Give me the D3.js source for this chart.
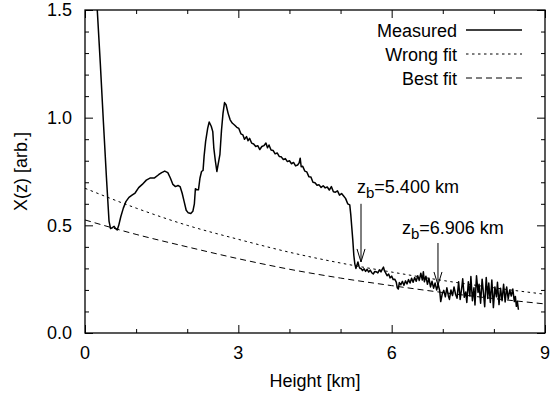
<!DOCTYPE html>
<html>
<head>
<meta charset="utf-8">
<script src="https://cdn.jsdelivr.net/npm/d3@7"></script>
<style>
  body { margin: 0; background: #fff; }
  svg text { font-family: "Liberation Sans", Arial, sans-serif; fill: #000; }
</style>
</head>
<body>
<div id="chart"></div>
<script>
// measured profile: [height km, X(z)]
const measured = [
  [0.16, 1.90], [0.24, 1.50], [0.30, 1.25], [0.36, 0.98], [0.42, 0.72], [0.47, 0.52], [0.50, 0.485],
  [0.54, 0.49], [0.57, 0.495], [0.60, 0.485], [0.63, 0.478], [0.66, 0.50], [0.70, 0.54], [0.75, 0.58],
  [0.80, 0.61], [0.86, 0.63], [0.92, 0.64], [0.98, 0.65], [1.05, 0.675], [1.12, 0.69], [1.20, 0.71],
  [1.28, 0.72], [1.36, 0.72], [1.44, 0.735], [1.50, 0.745], [1.56, 0.752], [1.62, 0.745], [1.67, 0.72],
  [1.72, 0.69], [1.77, 0.68], [1.82, 0.685], [1.86, 0.68], [1.90, 0.65], [1.94, 0.61], [1.98, 0.57],
  [2.02, 0.558], [2.07, 0.555], [2.11, 0.565], [2.14, 0.60], [2.16, 0.67], [2.19, 0.665], [2.22, 0.665],
  [2.25, 0.72], [2.28, 0.75], [2.31, 0.755], [2.33, 0.82], [2.36, 0.89], [2.40, 0.95], [2.43, 0.98],
  [2.47, 0.96], [2.50, 0.935], [2.52, 0.86], [2.55, 0.80], [2.58, 0.75], [2.61, 0.79], [2.64, 0.83],
  [2.67, 0.94], [2.70, 1.02], [2.73, 1.07], [2.76, 1.06], [2.80, 1.02], [2.84, 0.99], [2.88, 0.975],
  [2.93, 0.965], [2.97, 0.955], [3.01, 0.950], [3.05, 0.925], [3.09, 0.920], [3.12, 0.900], [3.16, 0.912],
  [3.19, 0.893], [3.22, 0.904], [3.26, 0.882], [3.30, 0.878], [3.34, 0.866], [3.38, 0.870], [3.42, 0.852],
  [3.46, 0.866], [3.50, 0.870], [3.54, 0.882], [3.57, 0.860], [3.60, 0.873], [3.64, 0.850], [3.68, 0.848],
  [3.72, 0.832], [3.76, 0.836], [3.80, 0.820], [3.84, 0.818], [3.88, 0.806], [3.92, 0.810], [3.96, 0.796],
  [4.00, 0.800], [4.04, 0.786], [4.08, 0.792], [4.12, 0.776], [4.16, 0.780], [4.19, 0.790], [4.21, 0.812],
  [4.23, 0.772], [4.26, 0.774], [4.30, 0.752], [4.34, 0.748], [4.38, 0.726], [4.42, 0.724], [4.46, 0.700],
  [4.50, 0.698], [4.54, 0.686], [4.58, 0.688], [4.62, 0.676], [4.66, 0.684], [4.70, 0.674], [4.74, 0.678],
  [4.78, 0.664], [4.82, 0.680], [4.86, 0.656], [4.90, 0.654], [4.94, 0.660], [4.98, 0.640], [5.02, 0.648],
  [5.06, 0.636], [5.10, 0.624], [5.14, 0.600], [5.18, 0.595], [5.20, 0.55], [5.22, 0.49], [5.24, 0.43],
  [5.26, 0.36], [5.28, 0.32], [5.30, 0.30], [5.32, 0.315], [5.34, 0.33], [5.36, 0.31], [5.38, 0.30],
  [5.40, 0.300], [5.43, 0.290], [5.46, 0.298], [5.49, 0.286], [5.52, 0.296], [5.55, 0.283], [5.58, 0.292],
  [5.61, 0.280], [5.64, 0.274], [5.67, 0.286], [5.70, 0.284], [5.73, 0.279], [5.76, 0.293], [5.79, 0.284],
  [5.82, 0.298], [5.84, 0.306], [5.86, 0.288], [5.88, 0.280], [5.91, 0.266], [5.94, 0.274], [5.97, 0.256],
  [6.00, 0.264], [6.03, 0.248], [6.06, 0.250], [6.09, 0.236], [6.11, 0.210], [6.13, 0.204], [6.15, 0.234],
  [6.18, 0.224], [6.21, 0.240], [6.24, 0.222], [6.27, 0.242], [6.30, 0.228], [6.33, 0.248], [6.36, 0.232],
  [6.39, 0.254], [6.42, 0.236], [6.45, 0.258], [6.48, 0.240], [6.51, 0.266], [6.54, 0.244], [6.57, 0.278],
  [6.60, 0.246], [6.62, 0.284], [6.64, 0.238], [6.67, 0.264], [6.70, 0.226], [6.73, 0.254], [6.76, 0.214],
  [6.79, 0.240], [6.82, 0.208], [6.85, 0.232], [6.88, 0.200], [6.91, 0.226], [6.94, 0.196], [6.96, 0.146],
  [6.99, 0.182], [7.02, 0.198], [7.05, 0.168], [7.08, 0.210], [7.11, 0.172], [7.13, 0.156], [7.16, 0.200],
  [7.19, 0.174], [7.22, 0.214], [7.25, 0.180], [7.28, 0.162], [7.31, 0.238], [7.34, 0.156], [7.37, 0.208],
  [7.39, 0.252], [7.42, 0.166], [7.45, 0.190], [7.47, 0.142], [7.50, 0.238], [7.53, 0.172], [7.55, 0.262],
  [7.58, 0.150], [7.61, 0.210], [7.63, 0.130], [7.66, 0.266], [7.69, 0.188], [7.71, 0.226], [7.74, 0.138],
  [7.77, 0.250], [7.80, 0.174], [7.82, 0.122], [7.85, 0.258], [7.88, 0.160], [7.90, 0.232], [7.93, 0.142],
  [7.96, 0.246], [7.99, 0.118], [8.02, 0.214], [8.05, 0.168], [8.07, 0.236], [8.10, 0.132], [8.13, 0.208],
  [8.16, 0.150], [8.19, 0.226], [8.22, 0.144], [8.25, 0.214], [8.28, 0.158], [8.31, 0.200], [8.34, 0.172],
  [8.37, 0.204], [8.40, 0.146], [8.42, 0.170], [8.44, 0.124], [8.46, 0.146], [8.48, 0.108]
];

// fit curves read at each km
const fitZ = [0, 1, 2, 3, 4, 5, 6, 7, 8, 9];
const wrongFit = [0.672, 0.580, 0.500, 0.435, 0.375, 0.325, 0.283, 0.244, 0.210, 0.180];
const bestFit = [0.525, 0.458, 0.400, 0.345, 0.296, 0.255, 0.220, 0.188, 0.160, 0.135];

const xMajorTicks = [0, 3, 6, 9];
const xMinorTicks = [1, 2, 4, 5, 7, 8];
const yMajorTicks = [0, 0.5, 1.0, 1.5];
const yMinorTicks = [0.1, 0.2, 0.3, 0.4, 0.6, 0.7, 0.8, 0.9, 1.1, 1.2, 1.3, 1.4];

const legendLabels = ["Measured", "Wrong fit", "Best fit"];

// boundary markers: label, height, arrow top / bottom in X(z)
const markerLabels = ["5.400 km", "6.906 km"];
const markerZ = [5.4, 6.906];
const markerTop = [0.600, 0.418];
const markerBottom = [0.330, 0.223];

const width = 550, height = 398;
const margin = { top: 10, right: 5, bottom: 65, left: 85 };
const innerWidth = width - margin.left - margin.right;
const innerHeight = height - margin.top - margin.bottom;
const fontSize = 18;

const svg = d3.select("#chart").append("svg")
  .attr("width", width)
  .attr("height", height);

const g = svg.append("g")
  .attr("transform", `translate(${margin.left},${margin.top})`);

const x = d3.scaleLinear().domain([0, 9]).range([0, innerWidth]);
const y = d3.scaleLinear().domain([0, 1.5]).range([innerHeight, 0]);

svg.append("defs").append("clipPath").attr("id", "plot-clip")
  .append("rect").attr("width", innerWidth).attr("height", innerHeight);

// ticks on all four sides, pointing inward
function tickAxis(axisFn, scale, values, size) {
  return axisFn(scale).tickValues(values).tickSize(-size).tickFormat("");
}

const axisStyle = sel => {
  sel.select(".domain").remove();
  sel.selectAll("line").attr("stroke", "#000").attr("stroke-width", 1);
};

g.append("g").attr("transform", `translate(0,${innerHeight})`)
  .call(tickAxis(d3.axisBottom, x, xMajorTicks, 8)).call(axisStyle);
g.append("g").attr("transform", `translate(0,${innerHeight})`)
  .call(tickAxis(d3.axisBottom, x, xMinorTicks, 4)).call(axisStyle);
g.append("g").call(tickAxis(d3.axisTop, x, xMajorTicks, 8)).call(axisStyle);
g.append("g").call(tickAxis(d3.axisTop, x, xMinorTicks, 4)).call(axisStyle);

g.append("g").call(tickAxis(d3.axisLeft, y, yMajorTicks, 8)).call(axisStyle);
g.append("g").call(tickAxis(d3.axisLeft, y, yMinorTicks, 4)).call(axisStyle);
g.append("g").attr("transform", `translate(${innerWidth},0)`)
  .call(tickAxis(d3.axisRight, y, yMajorTicks, 8)).call(axisStyle);
g.append("g").attr("transform", `translate(${innerWidth},0)`)
  .call(tickAxis(d3.axisRight, y, yMinorTicks, 4)).call(axisStyle);

// tick labels
g.append("g").selectAll("text")
  .data(xMajorTicks)
  .join("text")
  .attr("x", d => x(d))
  .attr("y", innerHeight + 25.5)
  .attr("text-anchor", "middle")
  .style("font-size", `${fontSize}px`)
  .text(d3.format("d"));

g.append("g").selectAll("text")
  .data(yMajorTicks)
  .join("text")
  .attr("x", -13)
  .attr("y", d => y(d))
  .attr("dy", "0.35em")
  .attr("text-anchor", "end")
  .style("font-size", `${fontSize}px`)
  .text(d3.format(".1f"));

// frame
g.append("rect")
  .attr("width", innerWidth)
  .attr("height", innerHeight)
  .attr("fill", "none")
  .attr("stroke", "#000")
  .attr("stroke-width", 1.3);

// axis titles
svg.append("text")
  .attr("x", margin.left + innerWidth / 2)
  .attr("y", 387)
  .attr("text-anchor", "middle")
  .style("font-size", `${fontSize}px`)
  .text("Height [km]");

svg.append("text")
  .attr("transform", `translate(26.5,${margin.top + innerHeight / 2}) rotate(-90)`)
  .attr("text-anchor", "middle")
  .style("font-size", `${fontSize}px`)
  .text("X(z) [arb.]");

// curves
const line = d3.line().x(d => x(d[0])).y(d => y(d[1]));
const smooth = d3.line().curve(d3.curveMonotoneX).x(d => x(d[0])).y(d => y(d[1]));

const plot = g.append("g").attr("clip-path", "url(#plot-clip)");

plot.append("path")
  .datum(fitZ.map((z, i) => [z, wrongFit[i]]))
  .attr("d", smooth)
  .attr("fill", "none")
  .attr("stroke", "#000")
  .attr("stroke-width", 1)
  .attr("stroke-dasharray", "2.5,3.5");

plot.append("path")
  .datum(fitZ.map((z, i) => [z, bestFit[i]]))
  .attr("d", smooth)
  .attr("fill", "none")
  .attr("stroke", "#000")
  .attr("stroke-width", 1)
  .attr("stroke-dasharray", "6,4");

plot.append("path")
  .datum(measured)
  .attr("d", line)
  .attr("fill", "none")
  .attr("stroke", "#000")
  .attr("stroke-width", 1.5)
  .attr("stroke-linejoin", "round");

// legend
const legendDash = [null, "2.5,3.5", "6,4"];
const legendWidth = [1.5, 1, 1];
const legend = svg.append("g");
legendLabels.forEach((label, i) => {
  const ly = 30 + i * 24;
  legend.append("text")
    .attr("x", 457)
    .attr("y", ly + 6.5)
    .attr("text-anchor", "end")
    .style("font-size", `${fontSize}px`)
    .text(label);
  legend.append("line")
    .attr("x1", 466).attr("x2", 522)
    .attr("y1", ly).attr("y2", ly)
    .attr("stroke", "#000")
    .attr("stroke-width", legendWidth[i])
    .attr("stroke-dasharray", legendDash[i]);
});

// boundary markers with open arrow heads
const textOffsetX = [-4, -36];
const textOffsetY = [-11, -9];
markerZ.forEach((z, i) => {
  const ax = x(z);
  const y0 = y(markerTop[i]);
  const y1 = y(markerBottom[i]);
  g.append("line")
    .attr("x1", ax).attr("x2", ax)
    .attr("y1", y0).attr("y2", y1)
    .attr("stroke", "#000").attr("stroke-width", 1);
  g.append("path")
    .attr("d", `M${ax - 4},${y1 - 13}L${ax},${y1}L${ax + 4},${y1 - 13}`)
    .attr("fill", "none").attr("stroke", "#000").attr("stroke-width", 1);

  const t = g.append("text")
    .attr("x", ax + textOffsetX[i])
    .attr("y", y0 + textOffsetY[i])
    .style("font-size", `${fontSize}px`);
  t.append("tspan").text("z");
  t.append("tspan").attr("dy", 5).style("font-size", "15px").text("b");
  t.append("tspan").attr("dy", -5).text("=" + markerLabels[i]);
});
</script>
</body>
</html>
